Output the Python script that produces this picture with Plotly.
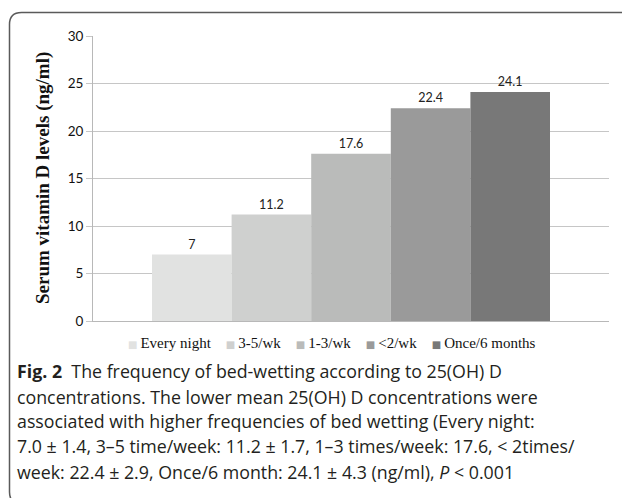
import plotly.graph_objects as go

# ---- data ----
categories = ["Every night", "3-5/wk", "1-3/wk", "<2/wk", "Once/6 months"]
values = [7, 11.2, 17.6, 22.4, 24.1]
colors = ["#e1e2e1", "#cfd0cf", "#babbba", "#9a9a9a", "#787878"]
y_ticks = [0, 5, 10, 15, 20, 25, 30]
y_title = "Serum vitamin D levels (ng/ml)"
caption_lines = [
    "<b>Fig. 2</b>  The frequency of bed-wetting according to 25(OH) D",
    "concentrations. The lower mean 25(OH) D concentrations were",
    "associated with higher frequencies of bed wetting (Every night:",
    "7.0 ± 1.4, 3–5 time/week: 11.2 ± 1.7, 1–3 times/week: 17.6, < 2times/",
    "week: 22.4 ± 2.9, Once/6 month: 24.1 ± 4.3 (ng/ml), <i>P</i> < 0.001",
]

OFF = 8                      # page body margin offset
W, H = 622, 490
L, R, T, B = 85, 21, 28, 177
PW, PH = W - L - R, H - T - B


def px2x(px):
    return (px - OFF - L) / PW


def px2y(py):
    return (H - B - (py - OFF)) / PH


fig = go.Figure()
for cat, val, col in zip(categories, values, colors):
    fig.add_trace(go.Bar(
        x=[""], y=[val], name=cat,
        marker=dict(color=col, line=dict(width=0)),
        texttemplate="%{y}",
        textposition="outside",
        textfont=dict(family="Lato", size=12.5, color="#222222"),
        cliponaxis=False,
    ))

axis_col = "#b8b8b8"
fig.update_layout(
    width=W, height=H,
    margin=dict(l=L, r=R, t=T, b=B),
    paper_bgcolor="white", plot_bgcolor="white",
    barmode="group", bargap=0.2287, bargroupgap=0,
    showlegend=False,
    xaxis=dict(showticklabels=False, showline=True, linecolor=axis_col,
               linewidth=1, showgrid=False, ticks="", zeroline=False),
    yaxis=dict(range=[0, 30], tickvals=y_ticks, showgrid=True,
               gridcolor="#c6c6c6", gridwidth=1, showline=True,
               linecolor=axis_col, linewidth=1, ticks="outside", ticklen=6,
               tickcolor="#c6c6c6", zeroline=False,
               tickfont=dict(family="Lato", size=13.5, color="#111111")),
)

# y-axis title
fig.add_annotation(xref="paper", yref="paper", x=px2x(43), y=px2y(178),
                   text=f"<b>{y_title}</b>", textangle=-90, showarrow=False,
                   xanchor="center", yanchor="middle",
                   font=dict(family="Liberation Serif", size=19, color="#111111"))

# legend (text-based, below plot)
parts = []
for cat, col in zip(categories, colors):
    safe = cat.replace("<", "&lt;")
    parts.append(f"<span style='font-family:DejaVu Sans;font-size:10px;color:{col}'>■</span>\u2009{safe}")
legend_text = "&nbsp;&nbsp;&nbsp;&nbsp;".join(parts)
fig.add_annotation(xref="paper", yref="paper", x=px2x(331.5), y=px2y(343),
                   text=legend_text, showarrow=False, xanchor="center",
                   yanchor="middle",
                   font=dict(family="Liberation Serif", size=15, color="#111111"))

# caption
centers = [371, 396.5, 421, 446, 471.5]
for line, cy in zip(caption_lines, centers):
    fig.add_annotation(xref="paper", yref="paper", x=px2x(15), y=px2y(cy),
                       text=line, showarrow=False, xanchor="left",
                       yanchor="middle", align="left",
                       font=dict(family="Open Sans", size=17.8, color="#231f20"))

# rounded border
x0, y0, x1, y1, r = 9.5, 12.5, 634, 504, 12
pts = lambda px, py: f"{px2x(px):.5f},{px2y(py):.5f}"
path = (f"M {pts(x0 + r, y0)} L {pts(x1 - r, y0)} Q {pts(x1, y0)} {pts(x1, y0 + r)} "
        f"L {pts(x1, y1 - r)} Q {pts(x1, y1)} {pts(x1 - r, y1)} "
        f"L {pts(x0 + r, y1)} Q {pts(x0, y1)} {pts(x0, y1 - r)} "
        f"L {pts(x0, y0 + r)} Q {pts(x0, y0)} {pts(x0 + r, y0)} Z")
fig.add_shape(type="path", xref="paper", yref="paper", path=path,
              line=dict(color="#5a5a5a", width=1.5), layer="above")

fig.write_html("out.html")
